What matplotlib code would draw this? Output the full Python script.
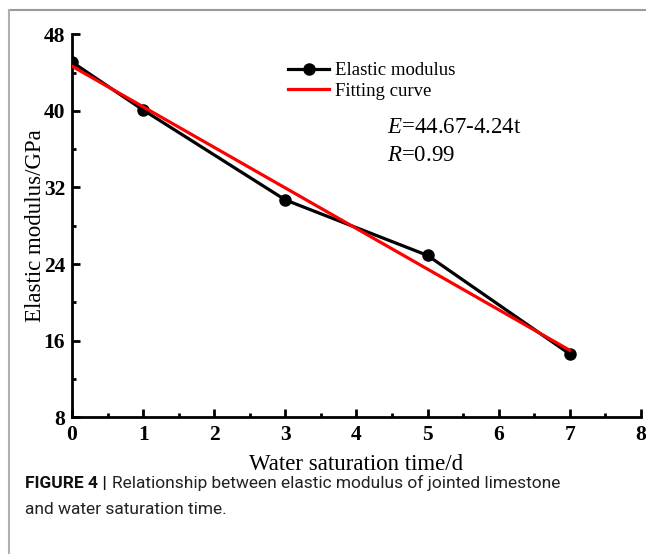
import matplotlib
matplotlib.use("Agg")
import matplotlib.pyplot as plt
from matplotlib.lines import Line2D
from matplotlib.ticker import MultipleLocator
import numpy as np

# data
days = [0, 1, 3, 5, 7]
modulus = [45.1, 40.1, 30.7, 24.9, 14.6]
fit_a, fit_b = 44.67, -4.24
fit_t = np.array([0, 7])

xticks = [0, 1, 2, 3, 4, 5, 6, 7, 8]
yticks = [8, 16, 24, 32, 40, 48]

serif = ["Liberation Serif", "DejaVu Serif"]
plt.rcParams["font.family"] = serif
plt.rcParams["mathtext.fontset"] = "custom"
plt.rcParams["mathtext.rm"] = "Liberation Serif"
plt.rcParams["mathtext.it"] = "Liberation Serif:italic"

fig = plt.figure(figsize=(6.46, 5.54), dpi=100)
ax = fig.add_axes([0.1115, 0.247, 0.8805, 0.691])

ax.plot(days, modulus, color="black", lw=2.3, marker="o", ms=8,
        label="Elastic modulus", zorder=3)
ax.plot(fit_t, fit_a + fit_b * fit_t, color="#ff0000", lw=2.3,
        label="Fitting curve", zorder=4)

ax.set_xlim(0, 8)
ax.set_ylim(8, 48)
ax.set_xticks(xticks)
ax.set_yticks(yticks)
ax.xaxis.set_minor_locator(MultipleLocator(0.5))
ax.yaxis.set_minor_locator(MultipleLocator(4))
for side in ["top", "right"]:
    ax.spines[side].set_visible(False)
for side in ["left", "bottom"]:
    ax.spines[side].set_linewidth(2)
ax.tick_params(which="both", direction="in", width=2)
ax.tick_params(which="major", length=6, labelsize=15.5)
ax.tick_params(axis="x", which="major", pad=6)
ax.tick_params(axis="y", which="major", pad=5)
ax.tick_params(which="minor", length=3)
for lab in ax.get_xticklabels() + ax.get_yticklabels():
    lab.set_fontweight("bold")
ax.set_xlabel("Water saturation time/d", fontsize=16.5, labelpad=6)
ax.set_ylabel("Elastic modulus/GPa", fontsize=16.5, labelpad=-1.5)

ax.legend(loc="upper left", bbox_to_anchor=(0.35, 0.972), frameon=False,
          fontsize=13.5, handlelength=2.2, handletextpad=0.3, labelspacing=0.2)
ax.text(0.554, 0.756, r"$E$=44.67-4.24t", transform=ax.transAxes,
        fontsize=16.5, va="center")
ax.text(0.554, 0.683, r"$R$=0.99", transform=ax.transAxes,
        fontsize=16.5, va="center")

# page frame
fig.add_artist(Line2D([9 / 646, 1], [1 - 10 / 554] * 2, color="#9a9a9a", lw=1.5))
fig.add_artist(Line2D([9 / 646] * 2, [0, 1 - 10 / 554], color="#b0b0b0", lw=1.5))

# caption
sans = ["Roboto", "Liberation Sans", "DejaVu Sans"]
cap_fs = 12.5
head = fig.text(25 / 646, 1 - 483 / 554, "FIGURE 4 |", family=sans,
                fontsize=cap_fs, fontweight="bold", va="center", color="#111111")
fig.canvas.draw()
bb = head.get_window_extent()
fig.text((bb.x1 + 5) / 646, 1 - 483 / 554,
         "Relationship between elastic modulus of jointed limestone",
         family=sans, fontsize=cap_fs, va="center", color="#222222")
fig.text(25 / 646, 1 - 510 / 554, "and water saturation time.", family=sans,
         fontsize=cap_fs, va="center", color="#222222")

plt.savefig("out.png", dpi=100)
